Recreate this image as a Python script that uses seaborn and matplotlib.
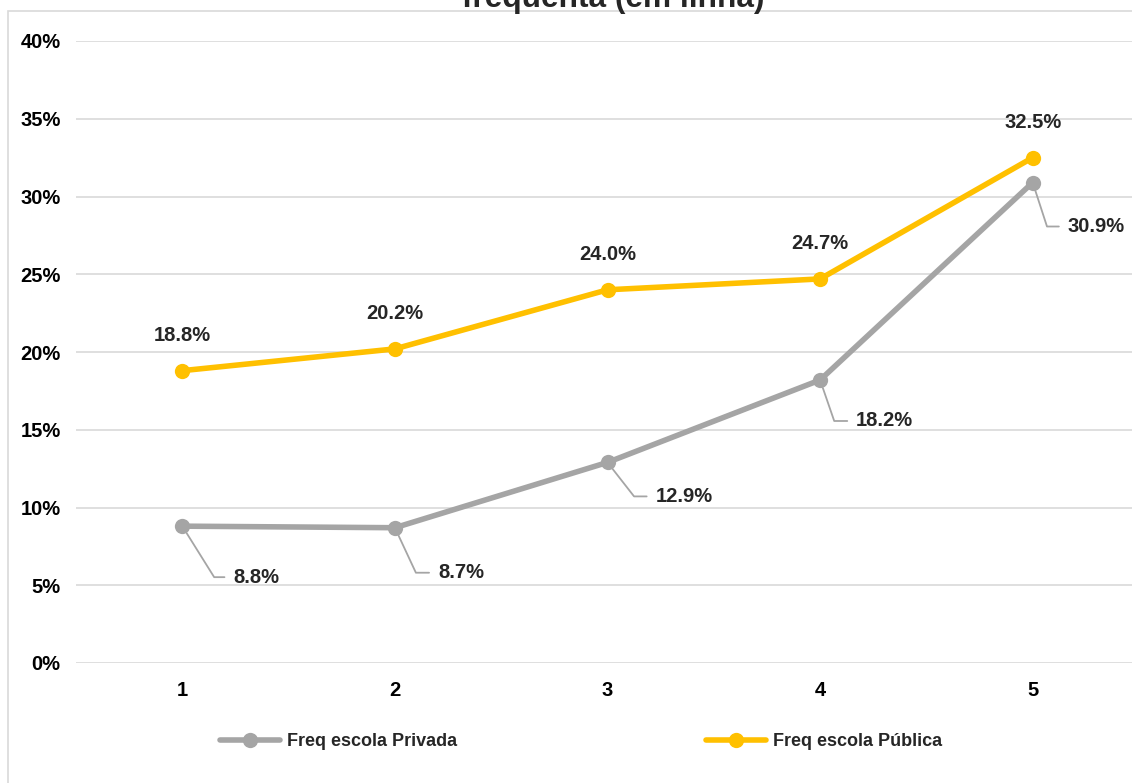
import matplotlib
matplotlib.use("Agg")
import matplotlib.pyplot as plt
import seaborn as sns
import pandas as pd
from matplotlib.patches import Rectangle
from matplotlib.ticker import FuncFormatter

# ---- data ----
categories = [1, 2, 3, 4, 5]
privada = [8.8, 8.7, 12.9, 18.2, 30.9]
publica = [18.8, 20.2, 24.0, 24.7, 32.5]
series_names = ["Freq escola Privada", "Freq escola Pública"]
y_ticks = [0, 5, 10, 15, 20, 25, 30, 35, 40]
title_text = "frequenta (em linha)"

# ---- style ----
GRAY = "#A5A5A5"
GOLD = "#FFC000"
GRID = "#D9D9D9"
sns.set_theme(style="white")
FAM = ["Liberation Sans", "DejaVu Sans"]
plt.rcParams["font.family"] = FAM
plt.rcParams["font.weight"] = "bold"

W, H = 1132, 783
fig = plt.figure(figsize=(W / 100, H / 100), dpi=100)

def px(x0, y0, x1, y1):
    return [x0 / W, 1 - y1 / H, (x1 - x0) / W, (y1 - y0) / H]

ax = fig.add_axes(px(76, 41, 1139, 663))

df = pd.DataFrame({
    "cat": categories * 2,
    "val": privada + publica,
    "serie": [series_names[0]] * 5 + [series_names[1]] * 5,
})

sns.lineplot(data=df, x="cat", y="val", hue="serie",
             palette={series_names[0]: GRAY, series_names[1]: GOLD},
             marker="o", markersize=11, markeredgewidth=0,
             linewidth=4, ax=ax, legend=True, zorder=3)

ax.set_xlim(0.5, 5.5)
ax.set_ylim(0, 40)
ax.set_yticks(y_ticks)
ax.yaxis.set_major_formatter(FuncFormatter(lambda v, p: f"{v:.0f}%"))
ax.set_xticks(categories)
ax.set_xticklabels([str(c) for c in categories])
ax.grid(axis="y", color=GRID, linewidth=1.2)
ax.grid(axis="x", visible=False)
for s in ax.spines.values():
    s.set_visible(False)
ax.tick_params(axis="both", length=0, labelsize=14.5, colors="black")
ax.tick_params(axis="y", pad=11)
ax.tick_params(axis="x", pad=13)
for lab in ax.get_xticklabels() + ax.get_yticklabels():
    lab.set_fontweight("bold")
ax.set_xlabel("")
ax.set_ylabel("")

# labels for Pública (above)
for c, v in zip(categories, publica):
    ax.annotate(f"{v:.1f}%", (c, v), xytext=(0, 35), textcoords="offset pixels",
                ha="center", va="center", fontsize=14.5, fontweight="bold", zorder=5)

# labels for Privada (lower right with leader lines)
label_offsets = [(51, -51), (43, -45), (48, -34), (36, -41), (35, -44)]
leader_angles = [-58, -65, -52, -71, -72]
for (c, v), (dx, dy), ang in zip(zip(categories, privada), label_offsets, leader_angles):
    ax.annotate(f"{v:.1f}%", (c, v), xytext=(dx, dy), textcoords="offset pixels",
                ha="left", va="center", fontsize=14.5, fontweight="bold", zorder=5,
                arrowprops=dict(arrowstyle="-", color=GRAY, lw=1.3,
                                connectionstyle=f"angle,angleA=0,angleB={ang},rad=0",
                                relpos=(0, 0.5), shrinkA=4, shrinkB=6))

# legend
leg = ax.legend(loc="center", bbox_to_anchor=(0.5 * (222 + 940) / W, 1 - 742 / H),
                bbox_transform=fig.transFigure, ncol=2, frameon=False,
                handlelength=3.3, columnspacing=13.8, handletextpad=0.4,
                prop={"family": FAM, "weight": "bold", "size": 13})
for line in leg.get_lines():
    line.set_linewidth(4)
    line.set_markersize(11)

# title (cut off at top)
fig.text(613 / W, 1 - 7 / H, title_text, ha="center", va="baseline",
         fontsize=22.8, fontweight="bold", family=FAM)

# chart area border
fig.patches.append(Rectangle((8 / W, -0.1), 1.2, 1 - 11 / H + 0.1,
                             transform=fig.transFigure, fill=False,
                             edgecolor=GRID, linewidth=1.2, zorder=0))

fig.savefig("out.png", dpi=100)
